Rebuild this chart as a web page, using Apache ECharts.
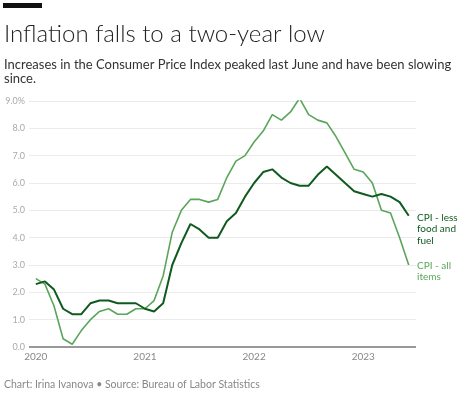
<!DOCTYPE html>
<html>
<head>
<meta charset="utf-8">
<script src="https://cdn.jsdelivr.net/npm/echarts@6/dist/echarts.min.js"></script>
<style>
  html, body { margin: 0; padding: 0; background: #fff; }
  #chart { width: 474px; height: 396px; }
</style>
</head>
<body>
<div id="chart"></div>
<script>
// monthly YoY change, Jan 2020 - Jun 2023
const yearLabels = ["2020", "2021", "2022", "2023"];
const yearStarts = [0, 12, 24, 36];
const cpiAll = [
  2.5, 2.3, 1.5, 0.3, 0.1, 0.6, 1.0, 1.3, 1.4, 1.2, 1.2, 1.4,
  1.4, 1.7, 2.6, 4.2, 5.0, 5.4, 5.4, 5.3, 5.4, 6.2, 6.8, 7.0,
  7.5, 7.9, 8.5, 8.3, 8.6, 9.1, 8.5, 8.3, 8.2, 7.7, 7.1, 6.5,
  6.4, 6.0, 5.0, 4.9, 4.0, 3.0
];
const cpiCore = [
  2.3, 2.4, 2.1, 1.4, 1.2, 1.2, 1.6, 1.7, 1.7, 1.6, 1.6, 1.6,
  1.4, 1.3, 1.6, 3.0, 3.8, 4.5, 4.3, 4.0, 4.0, 4.6, 4.9, 5.5,
  6.0, 6.4, 6.5, 6.2, 6.0, 5.9, 5.9, 6.3, 6.6, 6.3, 6.0, 5.7,
  5.6, 5.5, 5.6, 5.5, 5.3, 4.8
];

const darkGreen = "#0f5a1f";
const lightGreen = "#5ba55a";
const font = "Lato, 'Noto Sans', sans-serif";

const toPoints = (arr) => arr.map((v, i) => [i, v]);

var myChart = echarts.init(document.getElementById("chart"));
myChart.setOption({
  animation: false,
  grid: { left: 29, right: 58, top: 101, bottom: 49 },
  xAxis: {
    type: "value",
    min: -0.75,
    max: 41.8,
    axisLine: { show: false },
    axisTick: { show: false },
    splitLine: { show: false },
    axisLabel: {
      customValues: yearStarts,
      formatter: (v) => yearLabels[yearStarts.indexOf(v)],
      color: "#888",
      fontFamily: font,
      fontSize: 10,
      margin: 5,
    },
  },
  yAxis: {
    type: "value",
    min: 0,
    max: 9,
    interval: 1,
    axisLine: { show: false },
    axisTick: { show: false },
    splitLine: { lineStyle: { color: "#ebebeb", width: 1 } },
    axisLabel: {
      formatter: (v) => (v === 9 ? "9.0%" : v.toFixed(1)),
      color: "#aaa",
      fontFamily: font,
      fontSize: 9,
      margin: 4,
    },
  },
  series: [
    {
      // baseline at 0
      type: "line",
      data: [],
      markLine: {
        silent: true,
        symbol: "none",
        label: { show: false },
        lineStyle: { color: "#999", width: 2, type: "solid" },
        data: [{ yAxis: 0 }],
      },
    },
    {
      name: "CPI - all items",
      type: "line",
      data: toPoints(cpiAll),
      showSymbol: false,
      lineStyle: { color: lightGreen, width: 1.6 },
    },
    {
      name: "CPI - less food and fuel",
      type: "line",
      data: toPoints(cpiCore),
      showSymbol: false,
      lineStyle: { color: darkGreen, width: 2 },
    },
  ],
  graphic: [
    { type: "rect", shape: { x: 3, y: 3, width: 39, height: 5 }, style: { fill: "#111" } },
    {
      type: "text", left: 4, top: 22,
      style: { text: "Inflation falls to a two-year low", font: "300 24px " + font, fill: "#222" },
    },
    {
      type: "text", left: 4, top: 58,
      style: {
        text: "Increases in the Consumer Price Index peaked last June and have been slowing\nsince.",
        font: "13px " + font, fill: "#333", lineHeight: 14,
      },
    },
    {
      type: "text", left: 417, top: 212,
      style: { text: "CPI - less\nfood and\nfuel", font: "10px " + font, fill: darkGreen, lineHeight: 11.5 },
    },
    {
      type: "text", left: 417, top: 260,
      style: { text: "CPI - all\nitems", font: "10px " + font, fill: lightGreen, lineHeight: 11.5 },
    },
    {
      type: "text", left: 4, top: 379,
      style: { text: "Chart: Irina Ivanova \u2022 Source: Bureau of Labor Statistics", font: "10.5px " + font, fill: "#888" },
    },
  ],
});
</script>
</body>
</html>
